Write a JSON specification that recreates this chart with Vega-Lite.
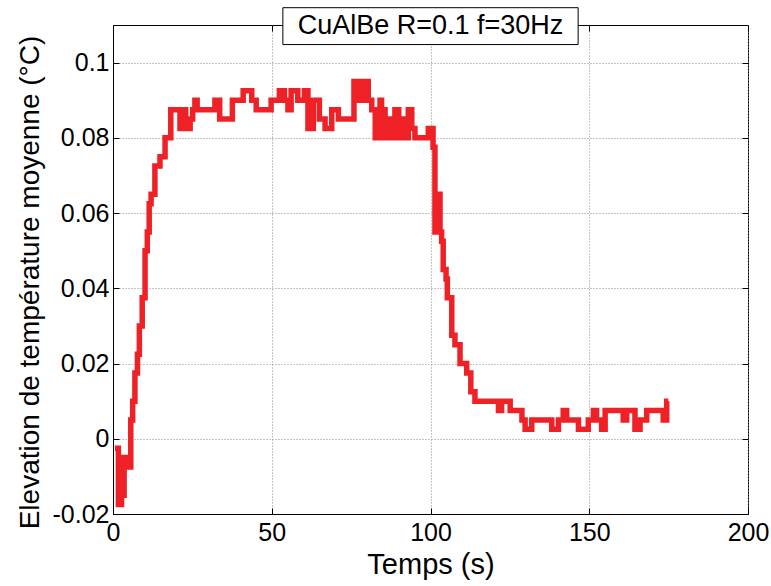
{
  "$schema": "https://vega.github.io/schema/vega-lite/v6.json",
  "width": 635,
  "height": 489,
  "autosize": {"type": "none"},
  "padding": {"left": 113, "top": 25, "right": 23, "bottom": 72},
  "background": "white",
  "config": {
    "view": {"stroke": "black", "strokeWidth": 1},
    "font": "Liberation Sans"
  },
  "layer": [
    {
      "data": {
        "values": [
          {"t": 0.6, "v": -0.0025}, {"t": 1.7, "v": -0.0175}, {"t": 2.7, "v": -0.005}, {"t": 3.1, "v": -0.015},
          {"t": 3.5, "v": -0.0075}, {"t": 3.9, "v": -0.005}, {"t": 4.3, "v": -0.0075}, {"t": 5.6, "v": 0.005},
          {"t": 6.2, "v": 0.01}, {"t": 6.9, "v": 0.0175}, {"t": 7.7, "v": 0.0225}, {"t": 8.3, "v": 0.03},
          {"t": 9.2, "v": 0.0375}, {"t": 10.1, "v": 0.05}, {"t": 10.8, "v": 0.055}, {"t": 11.4, "v": 0.0625},
          {"t": 12.0, "v": 0.065}, {"t": 13.2, "v": 0.0725}, {"t": 14.8, "v": 0.075}, {"t": 16.4, "v": 0.08},
          {"t": 18.2, "v": 0.0875}, {"t": 21.1, "v": 0.0825}, {"t": 22.1, "v": 0.0875}, {"t": 22.9, "v": 0.0825},
          {"t": 24.3, "v": 0.085}, {"t": 25.1, "v": 0.0875}, {"t": 25.8, "v": 0.09}, {"t": 26.5, "v": 0.0875},
          {"t": 32.1, "v": 0.09}, {"t": 33.6, "v": 0.085}, {"t": 37.6, "v": 0.09}, {"t": 41.0, "v": 0.0925},
          {"t": 43.7, "v": 0.09}, {"t": 45.1, "v": 0.0875}, {"t": 49.8, "v": 0.09}, {"t": 52.4, "v": 0.0925},
          {"t": 54.0, "v": 0.09}, {"t": 55.1, "v": 0.0875}, {"t": 56.1, "v": 0.0925}, {"t": 58.2, "v": 0.09},
          {"t": 60.3, "v": 0.0925}, {"t": 61.4, "v": 0.0825}, {"t": 63.1, "v": 0.09}, {"t": 65.0, "v": 0.085},
          {"t": 66.8, "v": 0.0825}, {"t": 68.9, "v": 0.0875}, {"t": 71.0, "v": 0.085}, {"t": 75.9, "v": 0.095},
          {"t": 77.3, "v": 0.09}, {"t": 79.0, "v": 0.095}, {"t": 80.4, "v": 0.09}, {"t": 81.5, "v": 0.0875},
          {"t": 82.6, "v": 0.08}, {"t": 84.1, "v": 0.09}, {"t": 84.6, "v": 0.0875}, {"t": 85.7, "v": 0.08},
          {"t": 87.2, "v": 0.085}, {"t": 88.0, "v": 0.08}, {"t": 88.8, "v": 0.0875}, {"t": 90.0, "v": 0.08},
          {"t": 91.4, "v": 0.085}, {"t": 92.5, "v": 0.08}, {"t": 93.0, "v": 0.0875}, {"t": 94.1, "v": 0.0825},
          {"t": 95.1, "v": 0.08}, {"t": 99.3, "v": 0.0825}, {"t": 100.8, "v": 0.0775}, {"t": 101.4, "v": 0.055},
          {"t": 101.8, "v": 0.065}, {"t": 102.2, "v": 0.0575}, {"t": 102.6, "v": 0.065}, {"t": 103.0, "v": 0.055},
          {"t": 103.5, "v": 0.0525}, {"t": 104.0, "v": 0.045}, {"t": 104.9, "v": 0.0425}, {"t": 105.3, "v": 0.0375},
          {"t": 106.7, "v": 0.0275}, {"t": 107.7, "v": 0.025}, {"t": 109.3, "v": 0.02}, {"t": 111.4, "v": 0.0175},
          {"t": 112.7, "v": 0.0125}, {"t": 114.0, "v": 0.01}, {"t": 121.4, "v": 0.0075}, {"t": 122.4, "v": 0.01},
          {"t": 125.1, "v": 0.0075}, {"t": 128.8, "v": 0.005}, {"t": 129.8, "v": 0.0025}, {"t": 131.9, "v": 0.005},
          {"t": 138.2, "v": 0.0025}, {"t": 140.3, "v": 0.005}, {"t": 141.8, "v": 0.0075}, {"t": 142.9, "v": 0.005},
          {"t": 146.6, "v": 0.0025}, {"t": 149.7, "v": 0.005}, {"t": 151.3, "v": 0.0075}, {"t": 152.3, "v": 0.005},
          {"t": 153.9, "v": 0.0025}, {"t": 155.0, "v": 0.0075}, {"t": 160.7, "v": 0.005}, {"t": 161.8, "v": 0.0075},
          {"t": 164.4, "v": 0.0025}, {"t": 166.0, "v": 0.005}, {"t": 168.1, "v": 0.0075}, {"t": 173.3, "v": 0.005},
          {"t": 174.4, "v": 0.01}, {"t": 174.9, "v": 0.01}
        ]
      },
      "mark": {"type": "line", "interpolate": "step-after", "color": "#EE2127", "strokeWidth": 5.5},
      "encoding": {
        "x": {
          "field": "t", "type": "quantitative",
          "scale": {"domain": [0, 200], "nice": false, "zero": false},
          "axis": {
            "title": "Temps (s)", "titleFontSize": 29, "titleFontWeight": "normal", "titleColor": "black", "titlePadding": 5,
            "values": [0, 50, 100, 150, 200], "labelFontSize": 25, "labelColor": "black", "labelPadding": 12,
            "labelFlush": false,
            "grid": true, "gridColor": "#8a8a8a", "gridDash": [1, 2], "gridWidth": 1,
            "tickSize": -6, "tickColor": "black", "domainColor": "black", "domainWidth": 1
          }
        },
        "y": {
          "field": "v", "type": "quantitative",
          "scale": {"domain": [-0.02, 0.11], "nice": false, "zero": false},
          "axis": {
            "title": "Elevation de température moyenne (°C)", "titleFontSize": 28, "titleFontWeight": "normal", "titleColor": "black", "titlePadding": 8,
            "titleY": 257,
            "values": [-0.02, 0, 0.02, 0.04, 0.06, 0.08, 0.1], "labelExpr": "'' + datum.value",
            "labelFontSize": 25, "labelColor": "black", "labelPadding": 10, "labelFlush": false,
            "grid": true, "gridColor": "#8a8a8a", "gridDash": [1, 2], "gridWidth": 1,
            "tickSize": -6, "tickColor": "black", "domainColor": "black", "domainWidth": 1
          }
        }
      }
    },
    {
      "data": {"values": [{"label": "CuAlBe R=0.1 f=30Hz"}]},
      "mark": {"type": "rect", "fill": "white", "stroke": "black", "strokeWidth": 1, "clip": false},
      "encoding": {
        "x": {"datum": 53.5, "type": "quantitative",
          "axis": {"orient": "top", "title": null, "labels": false, "grid": false, "domain": false,
                   "values": [0, 50, 100, 150, 200], "tickSize": -6, "tickColor": "black"}},
        "x2": {"datum": 146.5},
        "y": {"datum": 0.1146, "type": "quantitative",
          "axis": {"orient": "right", "title": null, "labels": false, "grid": false, "domain": false,
                   "values": [-0.02, 0, 0.02, 0.04, 0.06, 0.08, 0.1], "tickSize": -6, "tickColor": "black"}},
        "y2": {"datum": 0.1048}
      }
    },
    {
      "data": {"values": [{"label": "CuAlBe R=0.1 f=30Hz"}]},
      "mark": {"type": "text", "fontSize": 27, "font": "Liberation Sans", "color": "black", "align": "center", "baseline": "middle", "clip": false},
      "encoding": {
        "x": {"datum": 100, "type": "quantitative", "axis": null},
        "y": {"datum": 0.1097, "type": "quantitative", "axis": null},
        "text": {"field": "label"}
      }
    }
  ],
  "resolve": {"axis": {"x": "independent", "y": "independent"}}
}
